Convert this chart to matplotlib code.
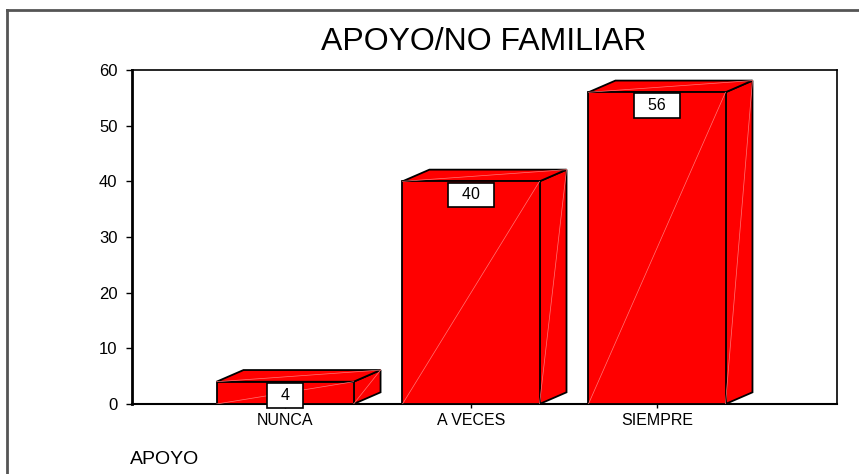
import matplotlib
matplotlib.use("Agg")
import matplotlib.pyplot as plt
from matplotlib.patches import Polygon
from matplotlib.lines import Line2D

# data
categorias = ["NUNCA", "A VECES", "SIEMPRE"]
valores = [4, 40, 56]
titulo = "APOYO/NO FAMILIAR"
eje_x = "APOYO"
yticks = [0, 10, 20, 30, 40, 50, 60]

plt.rcParams['font.family'] = ['Liberation Sans', 'DejaVu Sans']

W, H = 859, 474
fig = plt.figure(figsize=(W / 100, H / 100), dpi=100)
fig.patch.set_facecolor("white")

# outer frame (only top and left edges are visible)
fig.add_artist(Line2D([7 / W, 7 / W], [-0.05, 1 - 10 / H], transform=fig.transFigure,
                      color="#555555", lw=2))
fig.add_artist(Line2D([7 / W, 1.05], [1 - 10 / H, 1 - 10 / H], transform=fig.transFigure,
                      color="#555555", lw=2))

ax = fig.add_axes([132 / W, 1 - 404 / H, (837 - 132) / W, (404 - 70) / H])
ax.set_xlim(-0.823, 2.968)
ax.set_ylim(0, 60)

ancho = 0.737   # front face width
dx, dy = 0.145, 2.1  # 3d depth offset
rojo = "#ff0000"

for i, v in enumerate(valores):
    x0, x1 = i - ancho / 2, i + ancho / 2
    frente = [(x0, 0), (x1, 0), (x1, v), (x0, v)]
    techo = [(x0, v), (x1, v), (x1 + dx, v + dy), (x0 + dx, v + dy)]
    lado = [(x1, 0), (x1 + dx, dy), (x1 + dx, v + dy), (x1, v)]
    for pts in (lado, techo, frente):
        ax.add_patch(Polygon(pts, closed=True, facecolor=rojo, edgecolor="black",
                             lw=1.3, zorder=3, clip_on=False))
    # faint shading seams
    ax.plot([x0, x1], [0, v], color="#ff7878", lw=0.5, zorder=4)
    ax.plot([x0, x1 + dx], [v, v + dy], color="#ff7878", lw=0.5, zorder=4)
    ax.plot([x1, x1 + dx], [0, v + dy], color="#ff7878", lw=0.5, zorder=4)
    ax.annotate(f"  {v}  ", xy=(i, v), xytext=(0, -6), textcoords="offset pixels",
                ha="center", va="top", fontsize=11.5, zorder=6,
                bbox=dict(boxstyle="square,pad=0.3", facecolor="white",
                          edgecolor="black", lw=1.2))

ax.set_xticks(range(len(categorias)))
ax.set_xticklabels(categorias, fontsize=11.5)
ax.set_yticks(yticks)
ax.set_yticklabels([str(t) for t in yticks], fontsize=12)
ax.tick_params(axis="y", length=4, width=1, pad=6.5)
ax.tick_params(axis="x", length=3, width=1, pad=3.5)

ax.spines["left"].set_linewidth(2)
ax.spines["bottom"].set_linewidth(1.5)
ax.spines["top"].set_linewidth(1.2)
ax.spines["right"].set_linewidth(1.2)

fig.text(484 / W, 1 - 42 / H, titulo, ha="center", va="center", fontsize=23)
fig.text(130 / W, 1 - 460 / H, eje_x, ha="left", va="center", fontsize=14)

fig.savefig("out.png", dpi=100)
